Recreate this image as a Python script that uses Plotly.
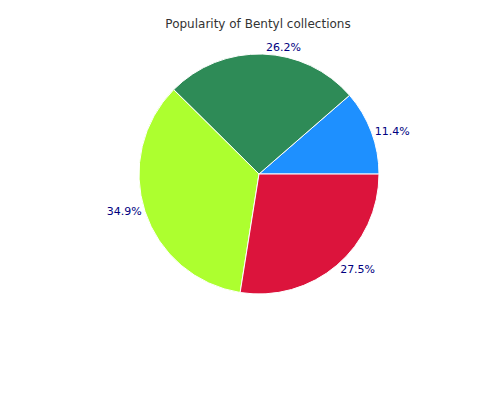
import plotly.graph_objects as go

labels = ["A", "B", "C", "D"]
values = [11.4, 26.2, 34.9, 27.5]
colors = ["#1E90FF", "#2E8B57", "#ADFF2F", "#DC143C"]

fig = go.Figure(go.Pie(
    labels=labels, values=values, sort=False, direction="counterclockwise",
    rotation=49, marker=dict(colors=colors, line=dict(color="white", width=1)),
    textinfo="percent", textposition="outside",
    textfont=dict(color="#000080", size=11, family="DejaVu Sans"),
    showlegend=False,
))
fig.update_layout(
    width=500, height=400,
    title=dict(text="Popularity of Bentyl collections", x=0.5, y=0.97,
               font=dict(size=12, color="#333333", family="DejaVu Sans")),
    margin=dict(t=46, b=114, l=46, r=60),
    paper_bgcolor="white",
)
fig.write_html("out.html")
